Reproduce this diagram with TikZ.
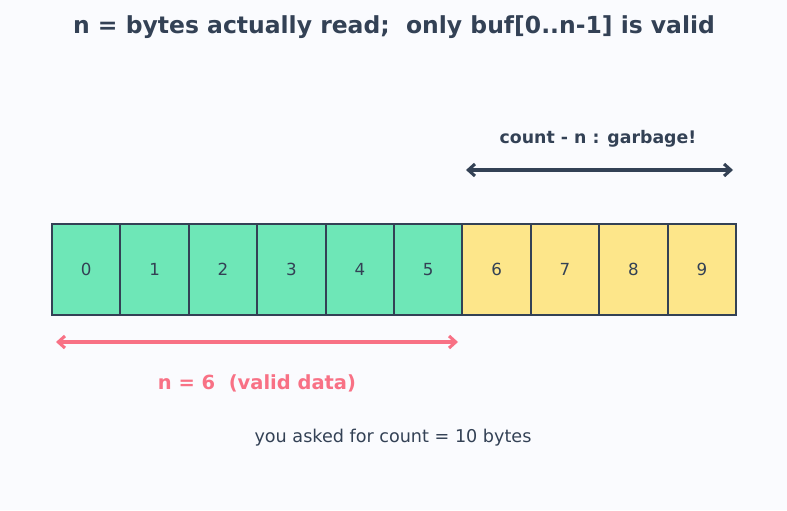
\documentclass[tikz,border=0pt]{standalone}
\usepackage{fontspec}
\setmainfont{DejaVu Sans}
\usetikzlibrary{arrows.meta}
\definecolor{bg}{HTML}{FAFBFE}
\definecolor{ink}{HTML}{334155}
\definecolor{good}{HTML}{6EE7B7}
\definecolor{bad}{HTML}{FDE68A}
\definecolor{rose}{HTML}{F87185}
\tikzset{
  cell/.style={draw=ink, line width=1.6pt, minimum width=51.3pt, minimum height=68.25pt, inner sep=0pt, text=ink, text height=9pt, text depth=0pt, font=\fontsize{12.5}{14}\selectfont},
  goodcell/.style={cell, fill=good},
  badcell/.style={cell, fill=bad},
  span/.style={line width=2.3pt, {Straight Barb[length=5pt,width=9pt,line width=2.3pt]}-{Straight Barb[length=5pt,width=9pt,line width=2.3pt]}},
  lbl/.style={inner sep=0pt, anchor=center}
}
\begin{document}
\begin{tikzpicture}[x=0.75pt,y=-0.75pt]
\fill[bg] (0,0) rectangle (787,510);
\useasboundingbox (0,0) rectangle (787,510);
\node[lbl, text=ink, font=\bfseries\fontsize{17.6}{20}\selectfont] (title) at (394,27) {n = bytes actually read;\ \ only buf[0..n-1] is valid};
\foreach \i in {0,...,9}{
  \pgfmathsetmacro{\cx}{52+68.4*\i+34.2}
  \ifnum\i<6
    \node[goodcell] (c\i) at (\cx,269.5) {\i};
  \else
    \node[badcell] (c\i) at (\cx,269.5) {\i};
  \fi
}
\coordinate (ga) at (466,170);
\coordinate (gb) at (733,170);
\draw[span, draw=ink] (ga) -- (gb);
\node[lbl, text=ink, font=\bfseries\fontsize{13}{15}\selectfont] (glbl) at (598,139) {count - n : garbage!};
\coordinate (va) at (56,342);
\coordinate (vb) at (458,342);
\draw[span, draw=rose] (va) -- (vb);
\node[lbl, text=rose, font=\bfseries\fontsize{14.6}{17}\selectfont] (vlbl) at (257,383) {n = 6\ \ (valid data)};
\node[lbl, text=ink, font=\fontsize{13.2}{15}\selectfont] (note) at (393,438) {you asked for count = 10 bytes};
\end{tikzpicture}
\end{document}
